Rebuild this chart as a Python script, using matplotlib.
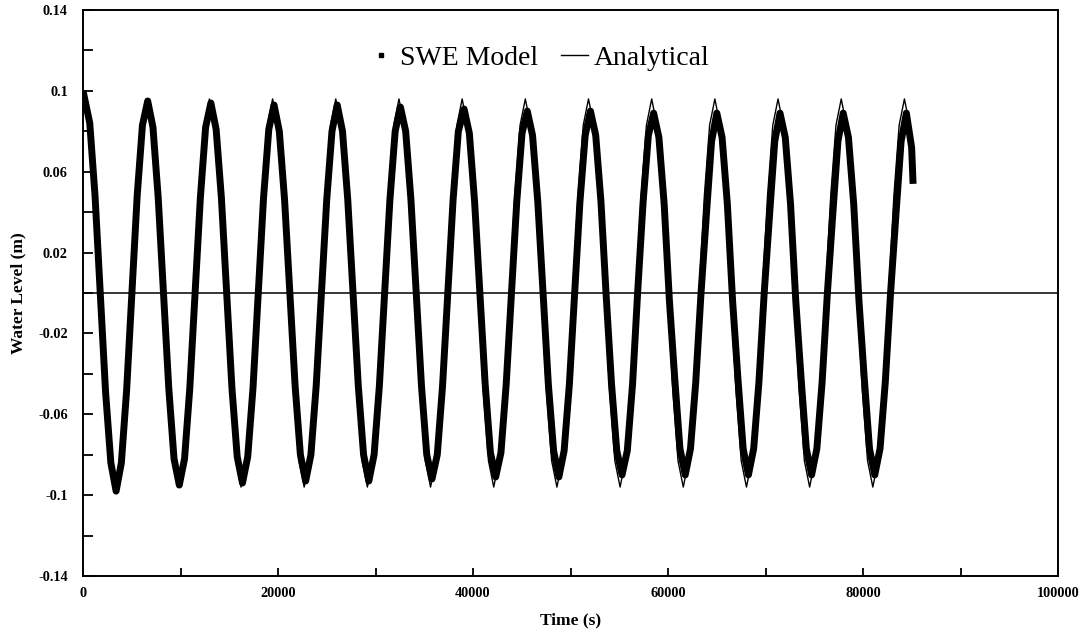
import matplotlib
matplotlib.use('Agg')
import matplotlib.pyplot as plt
from matplotlib.lines import Line2D

# analytical solution, sampled every 540 s (period ~6480 s), one row per cycle
time_s = [
    0, 540, 1080, 1620, 2160, 2700, 3240, 3780, 4320, 4860, 5400, 5940,
    6480, 7020, 7560, 8100, 8640, 9180, 9720, 10260, 10800, 11340, 11880, 12420,
    12960, 13500, 14040, 14580, 15120, 15660, 16200, 16740, 17280, 17820, 18360, 18900,
    19440, 19980, 20520, 21060, 21600, 22140, 22680, 23220, 23760, 24300, 24840, 25380,
    25920, 26460, 27000, 27540, 28080, 28620, 29160, 29700, 30240, 30780, 31320, 31860,
    32400, 32940, 33480, 34020, 34560, 35100, 35640, 36180, 36720, 37260, 37800, 38340,
    38880, 39420, 39960, 40500, 41040, 41580, 42120, 42660, 43200, 43740, 44280, 44820,
    45360, 45900, 46440, 46980, 47520, 48060, 48600, 49140, 49680, 50220, 50760, 51300,
    51840, 52380, 52920, 53460, 54000, 54540, 55080, 55620, 56160, 56700, 57240, 57780,
    58320, 58860, 59400, 59940, 60480, 61020, 61560, 62100, 62640, 63180, 63720, 64260,
    64800, 65340, 65880, 66420, 66960, 67500, 68040, 68580, 69120, 69660, 70200, 70740,
    71280, 71820, 72360, 72900, 73440, 73980, 74520, 75060, 75600, 76140, 76680, 77220,
    77760, 78300, 78840, 79380, 79920, 80460, 81000, 81540, 82080, 82620, 83160, 83700,
    84240, 84780, 85120,
]

analytical = [
    0.096, 0.083, 0.048, 0.0, -0.048, -0.083, -0.096, -0.083, -0.048, 0.0, 0.048, 0.083,
    0.096, 0.083, 0.048, 0.0, -0.048, -0.083, -0.096, -0.083, -0.048, 0.0, 0.048, 0.083,
    0.096, 0.083, 0.048, 0.0, -0.048, -0.083, -0.096, -0.083, -0.048, 0.0, 0.048, 0.083,
    0.096, 0.083, 0.048, 0.0, -0.048, -0.083, -0.096, -0.083, -0.048, 0.0, 0.048, 0.083,
    0.096, 0.083, 0.048, 0.0, -0.048, -0.083, -0.096, -0.083, -0.048, 0.0, 0.048, 0.083,
    0.096, 0.083, 0.048, 0.0, -0.048, -0.083, -0.096, -0.083, -0.048, 0.0, 0.048, 0.083,
    0.096, 0.083, 0.048, 0.0, -0.048, -0.083, -0.096, -0.083, -0.048, 0.0, 0.048, 0.083,
    0.096, 0.083, 0.048, 0.0, -0.048, -0.083, -0.096, -0.083, -0.048, 0.0, 0.048, 0.083,
    0.096, 0.083, 0.048, 0.0, -0.048, -0.083, -0.096, -0.083, -0.048, 0.0, 0.048, 0.083,
    0.096, 0.083, 0.048, 0.0, -0.048, -0.083, -0.096, -0.083, -0.048, 0.0, 0.048, 0.083,
    0.096, 0.083, 0.048, 0.0, -0.048, -0.083, -0.096, -0.083, -0.048, 0.0, 0.048, 0.083,
    0.096, 0.083, 0.048, 0.0, -0.048, -0.083, -0.096, -0.083, -0.048, 0.0, 0.048, 0.083,
    0.096, 0.083, 0.048, 0.0, -0.048, -0.083, -0.096, -0.083, -0.048, 0.0, 0.048, 0.083,
    0.096, 0.083, 0.062,
]

# SWE model output (lags the analytical curve slightly)
model_time_s = [
    0, 690, 1230, 1770, 2310, 2850, 3390, 3930, 4470, 5010, 5550, 6090,
    6630, 7170, 7710, 8250, 8790, 9330, 9870, 10410, 10950, 11490, 12030, 12570,
    13110, 13650, 14190, 14730, 15270, 15810, 16350, 16890, 17430, 17970, 18510, 19050,
    19590, 20130, 20670, 21210, 21750, 22290, 22830, 23370, 23910, 24450, 24990, 25530,
    26070, 26610, 27150, 27690, 28230, 28770, 29310, 29850, 30390, 30930, 31470, 32010,
    32550, 33090, 33630, 34170, 34710, 35250, 35790, 36330, 36870, 37410, 37950, 38490,
    39080, 39620, 40160, 40700, 41240, 41780, 42320, 42860, 43400, 43940, 44480, 45020,
    45560, 46100, 46640, 47180, 47720, 48260, 48800, 49340, 49880, 50420, 50960, 51500,
    52040, 52580, 53120, 53660, 54200, 54740, 55280, 55820, 56360, 56900, 57440, 57980,
    58520, 59060, 59600, 60140, 60680, 61220, 61760, 62300, 62840, 63380, 63920, 64460,
    65000, 65540, 66080, 66620, 67160, 67700, 68240, 68780, 69320, 69860, 70400, 70940,
    71480, 72020, 72560, 73100, 73640, 74180, 74720, 75260, 75800, 76340, 76880, 77420,
    77960, 78500, 79040, 79580, 80120, 80660, 81200, 81740, 82280, 82820, 83360, 83900,
    84440, 84980, 85130,
]

swe_model = [
    0.100, 0.084, 0.048, 0.0, -0.049, -0.084, -0.098, -0.084, -0.048, 0.0, 0.048, 0.083,
    0.095, 0.082, 0.047, 0.0, -0.047, -0.082, -0.095, -0.082, -0.047, 0.0, 0.047, 0.082,
    0.094, 0.081, 0.047, 0.0, -0.047, -0.081, -0.094, -0.081, -0.047, 0.0, 0.047, 0.081,
    0.093, 0.080, 0.046, 0.0, -0.046, -0.080, -0.093, -0.080, -0.046, 0.0, 0.046, 0.080,
    0.093, 0.080, 0.046, 0.0, -0.046, -0.080, -0.093, -0.080, -0.046, 0.0, 0.046, 0.080,
    0.092, 0.080, 0.046, 0.0, -0.046, -0.080, -0.092, -0.080, -0.046, 0.0, 0.046, 0.080,
    0.091, 0.079, 0.045, 0.0, -0.045, -0.079, -0.091, -0.079, -0.045, 0.0, 0.045, 0.079,
    0.090, 0.078, 0.045, 0.0, -0.045, -0.078, -0.091, -0.078, -0.045, 0.0, 0.045, 0.078,
    0.090, 0.078, 0.045, -0.002, -0.045, -0.078, -0.090, -0.078, -0.045, 0.002, 0.045, 0.078,
    0.089, 0.077, 0.044, -0.004, -0.042, -0.077, -0.090, -0.077, -0.044, 0.0, 0.038, 0.075,
    0.089, 0.077, 0.044, -0.004, -0.042, -0.077, -0.090, -0.077, -0.044, 0.0, 0.038, 0.075,
    0.089, 0.077, 0.044, -0.004, -0.042, -0.077, -0.090, -0.077, -0.044, 0.0, 0.038, 0.075,
    0.089, 0.077, 0.044, -0.004, -0.042, -0.077, -0.090, -0.077, -0.044, 0.0, 0.038, 0.075,
    0.089, 0.072, 0.054,
]

ytick_vals = [-0.14, -0.1, -0.06, -0.02, 0.02, 0.06, 0.1, 0.14]
ytick_labels = ['-0.14', '-0.1', '-0.06', '-0.02', '0.02', '0.06', '0.1', '0.14']
yminor_vals = [-0.12, -0.08, -0.04, 0.0, 0.04, 0.08, 0.12]
xtick_vals = [0, 20000, 40000, 60000, 80000, 100000]
xminor_vals = [10000, 30000, 50000, 70000, 90000]

serif = ['Liberation Serif', 'DejaVu Serif']

fig = plt.figure(figsize=(10.8, 6.3), dpi=100)
ax = fig.add_axes([0.0769, 0.0857, 0.9028, 0.8984])

ax.axhline(0, color='black', lw=1.1, zorder=1)
ax.plot(model_time_s, swe_model, color='black', lw=5.0,
        solid_joinstyle='round', solid_capstyle='butt', zorder=2)
ax.plot(time_s, analytical, color='black', lw=1.0, zorder=3)

ax.set_xlim(0, 100000)
ax.set_ylim(-0.14, 0.14)

ax.set_yticks(ytick_vals)
ax.set_yticklabels(ytick_labels)
ax.set_yticks(yminor_vals, minor=True)
ax.set_xticks(xtick_vals)
ax.set_xticklabels([str(v) for v in xtick_vals])
ax.set_xticks(xminor_vals, minor=True)

ax.tick_params(axis='y', which='both', direction='in', length=7, width=1.3)
ax.tick_params(axis='x', which='both', direction='in', length=5.5, width=1.3)
ax.tick_params(axis='y', which='major', pad=11)
ax.tick_params(axis='x', which='major', pad=8)
for lab in ax.get_xticklabels() + ax.get_yticklabels():
    lab.set_family(serif)
    lab.set_fontweight('bold')
    lab.set_fontsize(10.3)

for sp in ax.spines.values():
    sp.set_linewidth(1.4)

ax.set_ylabel('Water Level (m)', family=serif, fontweight='bold', fontsize=12.5)
ax.yaxis.set_label_coords(-0.058, 0.5)
ax.set_xlabel('Time (s)', family=serif, fontweight='bold', fontsize=12.5)
ax.xaxis.set_label_coords(0.5, -0.065)

handles = [
    Line2D([], [], marker='s', ls='none', color='black', markersize=3),
    Line2D([], [], color='black', lw=1.0),
]
leg = ax.legend(handles, ['SWE Model', 'Analytical'], loc='center',
                bbox_to_anchor=(0.467, 0.915), ncol=2, frameon=False,
                prop={'family': serif, 'size': 20},
                handlelength=1.0, handletextpad=0.2, columnspacing=0.8)

fig.savefig('out.png', dpi=100)
